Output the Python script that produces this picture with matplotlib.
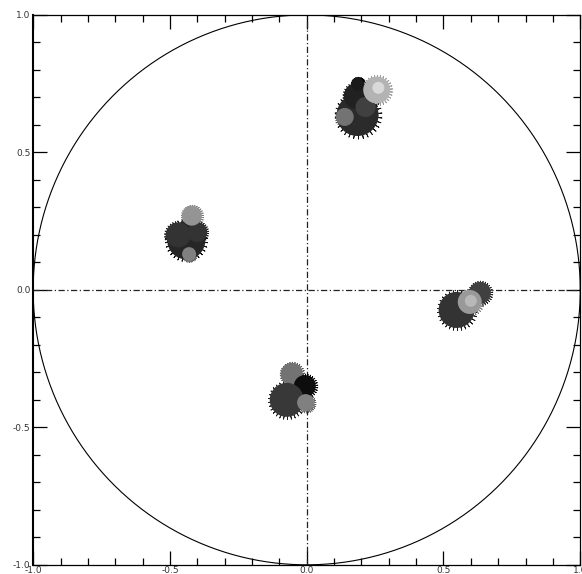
import numpy as np
import matplotlib
matplotlib.use('Agg')
import matplotlib.pyplot as plt
from matplotlib.ticker import MultipleLocator

# cluster blobs: centre x, centre y, diameter (px), grey level (0=black)
tr_x = [0.186, 0.183, 0.186, 0.215, 0.139, 0.256, 0.262]
tr_y = [0.636, 0.705, 0.748, 0.665, 0.629, 0.727, 0.735]
tr_d = [42, 26, 13, 20, 18, 27, 12]
tr_g = [0.17, 0.13, 0.10, 0.25, 0.45, 0.70, 0.85]

lf_x = [-0.44, -0.47, -0.40, -0.42, -0.43]
lf_y = [0.18, 0.20, 0.21, 0.27, 0.13]
lf_d = [38, 25, 20, 20, 14]
lf_g = [0.15, 0.20, 0.20, 0.58, 0.50]

rt_x = [0.548, 0.633, 0.596, 0.60]
rt_y = [-0.073, -0.011, -0.044, -0.04]
rt_d = [36, 22, 24, 12]
rt_g = [0.20, 0.25, 0.60, 0.72]

bt_x = [-0.055, -0.007, -0.073, -0.004]
bt_y = [-0.305, -0.35, -0.40, -0.41]
bt_d = [22, 22, 34, 17]
bt_g = [0.45, 0.05, 0.22, 0.50]

clusters = [(tr_x, tr_y, tr_d, tr_g), (lf_x, lf_y, lf_d, lf_g),
            (rt_x, rt_y, rt_d, rt_g), (bt_x, bt_y, bt_d, bt_g)]

fig = plt.figure(figsize=(5.82, 5.74), dpi=100)
ax = fig.add_axes([0.057, 0.016, 0.94, 0.958])

# unit circle and cross-hair
t = np.linspace(0, 2 * np.pi, 400)
ax.plot(np.cos(t), np.sin(t), color='black', lw=0.8)
ax.plot([-1, 1], [0, 0], color='#222222', lw=0.9, dashes=[5, 2, 1, 2])
ax.plot([0, 0], [-1, 1], color='#222222', lw=0.9, dashes=[5, 2, 1, 2])

for cx, cy, cd, cg in clusters:
    for x, y, d, g in zip(cx, cy, cd, cg):
        s_pt = d * 0.72
        edge = str(max(g - 0.1, 0.0))
        ax.scatter([x], [y], s=(s_pt * 1.12) ** 2, marker=(30, 2, 0),
                   color=edge, lw=0.6, zorder=3)
        ax.scatter([x], [y], s=s_pt ** 2, marker='o', color=str(g),
                   edgecolors='none', zorder=4)

ax.set_xlim(-1, 1)
ax.set_ylim(-1, 1)
ax.xaxis.set_major_locator(MultipleLocator(0.5))
ax.yaxis.set_major_locator(MultipleLocator(0.5))
ax.xaxis.set_minor_locator(MultipleLocator(0.1))
ax.yaxis.set_minor_locator(MultipleLocator(0.1))
ax.tick_params(which='both', direction='in', top=True, right=True,
               labelsize=6.5, labelcolor='#333333', pad=2, width=0.9)
ax.tick_params(axis='x', pad=1)
ax.tick_params(which='major', length=10)
ax.tick_params(which='minor', length=5)
ax.xaxis.set_major_formatter(plt.FuncFormatter(lambda v, p: f'{v:.1f}'))
ax.yaxis.set_major_formatter(plt.FuncFormatter(lambda v, p: f'{v:.1f}'))
for side in ['top', 'right', 'bottom']:
    ax.spines[side].set_linewidth(0.9)
ax.spines['left'].set_linewidth(1.5)

plt.savefig('out.png', dpi=100)
